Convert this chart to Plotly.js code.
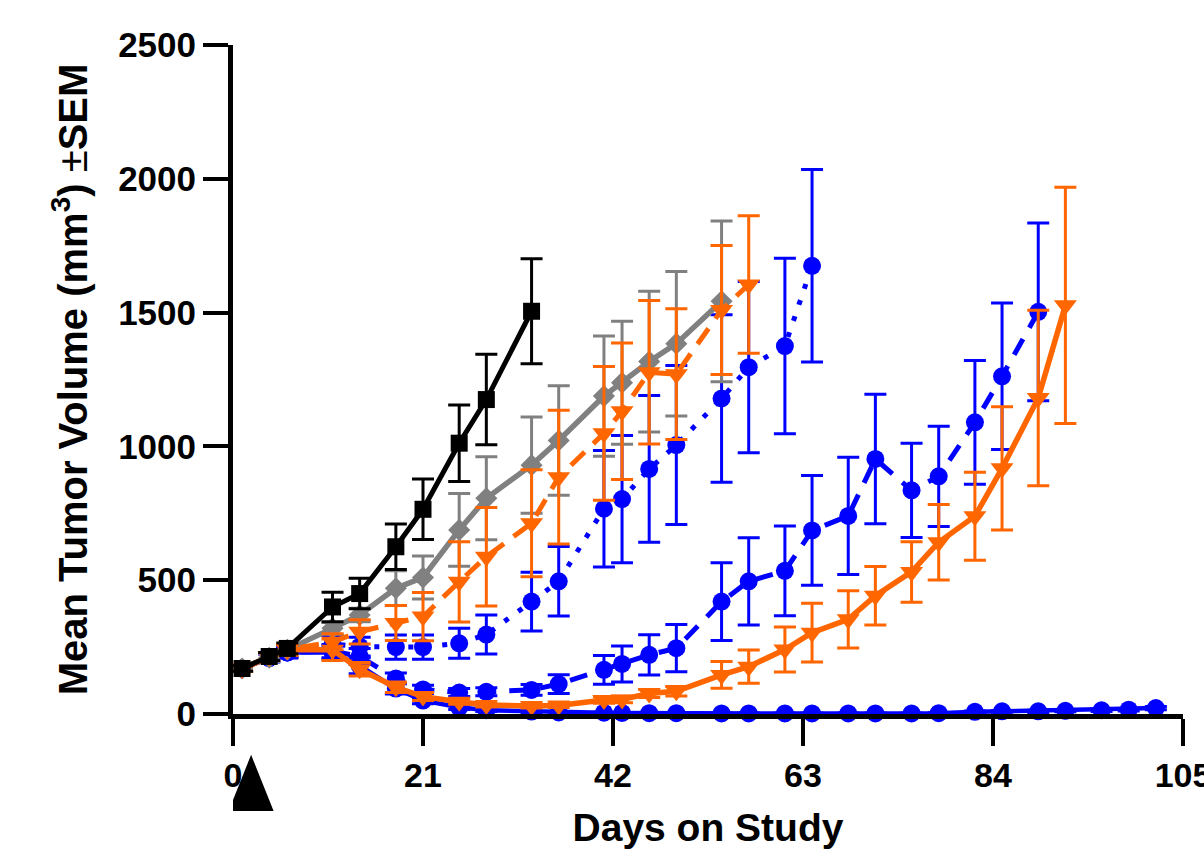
<!DOCTYPE html>
<html>
<head>
<meta charset="utf-8">
<script src="https://cdn.plot.ly/plotly-3.0.1.min.js"></script>
<style>html,body{margin:0;padding:0;background:#fff;}#chart{width:1204px;height:849px;}</style>
</head>
<body>
<div id="chart"></div>
<script>
// ---- data ----
const daysAll = [1, 4, 6, 11, 14, 18, 21, 25, 28, 33, 36, 41, 43, 46, 49, 54, 57, 61, 64, 68, 71, 75, 78, 82, 85, 89, 92, 96, 99, 102];

const blackDays = daysAll.slice(0, 10);
const blackMean = [170, 215, 245, 400, 450, 625, 765, 1012, 1175, 1505];
const blackSem  = [10, 15, 20, 55, 57, 85, 113, 143, 169, 196];

const grayDays = daysAll.slice(0, 16);
const grayMean = [170, 210, 240, 320, 370, 470, 510, 688, 806, 930, 1022, 1188, 1238, 1317, 1384, 1542];
const graySem  = [10, 15, 20, 22, 25, 65, 80, 136, 155, 180, 205, 225, 230, 263, 270, 300];

const orangeDashDays = daysAll.slice(0, 17);
const orangeDashMean = [170, 215, 240, 270, 307, 340, 364, 494, 588, 713, 885, 1049, 1131, 1277, 1270, 1510, 1605];
const orangeDashSem  = [10, 15, 20, 30, 45, 65, 90, 150, 184, 200, 250, 250, 255, 268, 244, 241, 257];

const blueDotDays = daysAll.slice(0, 19);
const blueDotMean = [170, 210, 230, 262, 252, 250, 250, 264, 297, 420, 496, 767, 803, 916, 1005, 1179, 1296, 1375, 1675];
const blueDotSem  = [10, 15, 20, 30, 35, 45, 45, 56, 73, 110, 130, 218, 238, 274, 297, 313, 320, 328, 360];

const blueDashDays = daysAll.slice(0, 26);
const blueDashMean = [170, 210, 230, 235, 215, 133, 92, 80, 83, 90, 112, 165, 187, 221, 246, 420, 496, 535, 686, 740, 953, 836, 888, 1090, 1262, 1503];
const blueDashSem  = [10, 15, 20, 25, 30, 20, 15, 15, 15, 20, 35, 54, 67, 75, 88, 145, 163, 168, 205, 219, 242, 176, 187, 231, 274, 332];

const orangeSolidDays = daysAll.slice(0, 27);
const orangeSolidMean = [170, 215, 240, 240, 167, 100, 65, 46, 34, 30, 32, 52, 54, 77, 85, 146, 177, 241, 304, 354, 442, 531, 642, 739, 918, 1181, 1527];
const orangeSolidSem  = [10, 15, 20, 40, 25, 20, 15, 10, 8, 8, 8, 12, 12, 15, 18, 50, 62, 84, 110, 107, 109, 113, 141, 164, 230, 328, 441];

const blueSolidDays = daysAll.slice(0, 30);
const blueSolidMean = [170, 210, 230, 230, 180, 95, 50, 25, 14, 9, 6, 5, 4, 3, 3, 2, 2, 2, 2, 2, 2, 2, 3, 8, 10, 10, 12, 14, 16, 22];
const blueSolidSem  = [10, 15, 20, 25, 30, 20, 12, 8, 5, 3, 2, 2, 2, 2, 2, 2, 2, 2, 2, 2, 2, 2, 2, 3, 3, 4, 4, 5, 5, 6];

const dosingDays = [2];

const xTicks = [0, 21, 42, 63, 84, 105];
const yTicks = [0, 500, 1000, 1500, 2000, 2500];

// ---- styling ----
const BLUE = '#0000FF', ORANGE = '#FF6600', GRAY = '#808080', BLACK = '#000000';

function series(x, y, e, color, dash, symbol, msize, lw) {
  return {
    type: 'scatter', mode: 'lines+markers', x: x, y: y,
    cliponaxis: false,
    line: {color: color, width: lw, dash: dash},
    marker: {color: color, symbol: symbol, size: msize, line: {width: 0}},
    error_y: {type: 'data', array: e, visible: true, color: color, thickness: 3, width: 11},
    showlegend: false, hoverinfo: 'x+y'
  };
}

const traces = [
  series(blueSolidDays, blueSolidMean, blueSolidSem, BLUE, 'solid', 'circle', 18, 4.5),
  series(blueDashDays, blueDashMean, blueDashSem, BLUE, '18px,13px', 'circle', 18, 5),
  series(blueDotDays, blueDotMean, blueDotSem, BLUE, '5px,12px', 'circle', 18, 5),
  series(grayDays, grayMean, graySem, GRAY, 'solid', 'diamond', 17, 5.5),
  series(orangeDashDays, orangeDashMean, orangeDashSem, ORANGE, '19px,12px', 'triangle-down', 20, 5),
  series(orangeSolidDays, orangeSolidMean, orangeSolidSem, ORANGE, 'solid', 'triangle-down', 20, 5.5),
  series(blackDays, blackMean, blackSem, BLACK, 'solid', 'square', 17, 5)
];

const font = {family: 'Liberation Sans, Arial, sans-serif', color: '#000'};

// dosing marker below the x axis: x in data (pixel-sized width), y in paper fractions
const shapes = dosingDays.map(d => ({
  type: 'path', xref: 'x', yref: 'paper',
  xsizemode: 'pixel', xanchor: d,
  path: 'M-22.5,-0.145 L22.5,-0.145 L0,-0.061 Z',
  fillcolor: BLACK, line: {width: 0}, layer: 'above'
}));

const layout = {
  width: 1204, height: 849,
  margin: {l: 233, r: 21, t: 45, b: 135, pad: 0},
  paper_bgcolor: '#fff', plot_bgcolor: '#fff',
  font: font,
  showlegend: false,
  xaxis: {
    range: [0, 105], tickmode: 'array', tickvals: xTicks, ticktext: xTicks.map(String),
    showline: true, linewidth: 5, linecolor: BLACK, mirror: false,
    ticks: 'outside', ticklen: 27, tickwidth: 4, tickcolor: BLACK,
    ticklabeloverflow: 'allow',
    tickfont: {family: font.family, size: 34, weight: 'bold', color: BLACK},
    showgrid: false, zeroline: false,
    title: {text: 'Days on Study', font: {family: font.family, size: 39, weight: 'bold', color: BLACK}, standoff: 24}
  },
  yaxis: {
    range: [0, 2500], tickmode: 'array', tickvals: yTicks, ticktext: yTicks.map(String),
    showline: true, linewidth: 5, linecolor: BLACK,
    ticks: 'outside', ticklen: 25, tickwidth: 4, tickcolor: BLACK,
    tickfont: {family: font.family, size: 35, weight: 'bold', color: BLACK},
    showgrid: false, zeroline: false,
    title: {text: 'Mean Tumor Volume (mm<sup>3</sup>) <span style="font-weight:normal">±</span>SEM', font: {family: font.family, size: 40, weight: 'bold', color: BLACK}, standoff: 20}
  },
  shapes: shapes
};

Plotly.newPlot('chart', traces, layout, {displayModeBar: false, staticPlot: true});
</script>
</body>
</html>
